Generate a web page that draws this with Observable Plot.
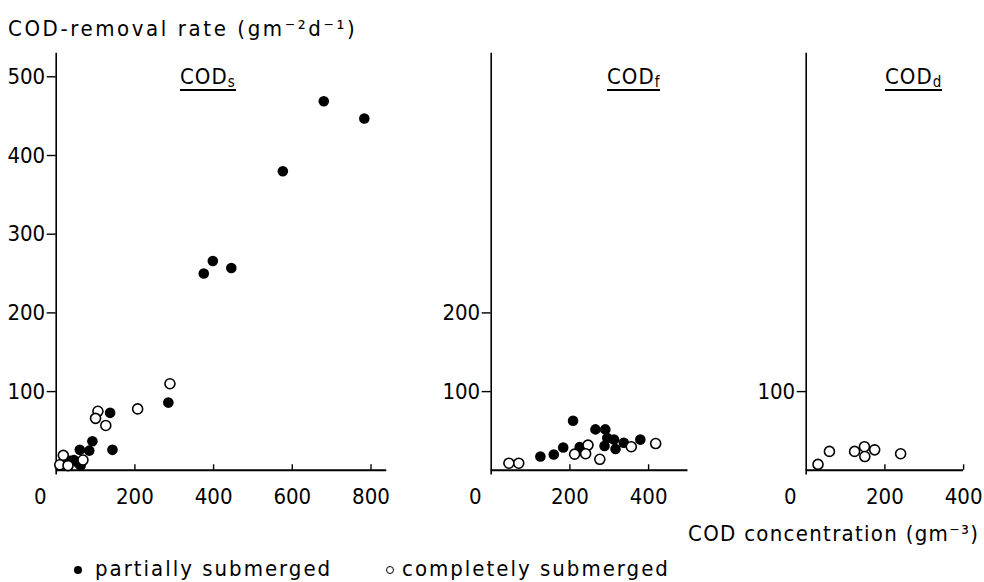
<!DOCTYPE html>
<html><head><meta charset="utf-8">
<script src="https://cdn.jsdelivr.net/npm/d3@7"></script>
<script src="https://cdn.jsdelivr.net/npm/@observablehq/plot@0.6"></script>
<style>
body{margin:0;background:#fff;}
#chart{position:relative;width:984px;height:582px;overflow:hidden;font-family:"Liberation Sans Narrow","DejaVu Sans Condensed",sans-serif;color:#000;background:#fff;}
#chart svg{position:absolute;left:0;top:0;}
.lbl{position:absolute;white-space:nowrap;font-size:22px;letter-spacing:2px;line-height:1;}
.ptitle{position:absolute;white-space:nowrap;font-size:22px;letter-spacing:1px;line-height:1;border-bottom:2px solid #000;padding-bottom:1px;}
.ptitle sub{font-size:15px;vertical-align:-3px;line-height:0;}
.dotk{position:absolute;border-radius:50%;box-sizing:border-box;}
</style></head><body><div id="chart"></div>
<script>
// ---- data ----
const panelNames = ["COD", "COD", "COD"];
const panelSubs = ["s", "f", "d"];
const yTitle = "COD-removal rate (gm⁻²d⁻¹)";
const xTitle = "COD concentration (gm⁻³)";
const legendLabels = ["partially submerged", "completely submerged"];

// COD_s panel
const sPartialX = [680, 783, 576, 375, 398, 445, 285, 137, 143, 92, 84, 60, 45, 55, 62, 35];
const sPartialY = [469, 447, 380, 250, 266, 257, 86, 73, 26, 37, 25, 26, 13, 10, 6, 12];
const sCompleteX = [289, 207, 106, 100, 126, 18, 9, 68, 30];
const sCompleteY = [110, 78, 75, 66, 57, 19, 7, 13, 6];
// COD_f panel
const fPartialX = [125, 159, 183, 208, 225, 265, 290, 295, 312, 288, 316, 337, 379];
const fPartialY = [17.5, 20, 29, 63, 29.5, 52, 52, 41, 39, 31, 27, 35, 39];
const fCompleteX = [45, 70, 212, 246, 240, 276, 356, 418];
const fCompleteY = [9, 9, 20.5, 32, 21, 14, 30, 34];
// COD_d panel
const dCompleteX = [30, 59, 123, 148, 149, 174, 240];
const dCompleteY = [7.5, 24, 24, 30, 17.5, 26, 21];

// axes
const sXTicks = [0, 200, 400, 600, 800];
const fXTicks = [0, 200, 400];
const dXTicks = [0, 200, 400];
const sYTicks = [100, 200, 300, 400, 500];
const fYTicks = [100, 200];
const dYTicks = [100];
const xMax = [840, 500, 400];
const yMax = 530;

const zip = (xs, ys) => xs.map((x, i) => ({x, y: ys[i]}));
const FONT = '"Liberation Sans Narrow","DejaVu Sans Condensed",sans-serif';
const W = 984, H = 582, PX = 0.3935, TOP = 52.7, BOTTOM = 469.8;

function panel(o) {
  const right = o.left + PX * o.xMax;
  return Plot.plot({
    width: W, height: H,
    marginLeft: o.left, marginRight: W - right, marginTop: TOP, marginBottom: H - BOTTOM,
    style: {background: "transparent", fontFamily: FONT, fontSize: "22px", color: "#000", overflow: "visible"},
    x: {domain: [0, o.xMax], axis: null},
    y: {domain: [0, yMax], axis: null},
    marks: [
      Plot.ruleY([0], {x1: 0, x2: o.xMax, stroke: "#000", strokeWidth: 2}),
      Plot.ruleX([0], {y1: -6, y2: yMax, stroke: "#000", strokeWidth: 1.6}),
      Plot.axisY({ticks: o.yTicks, tickSize: 9, tickPadding: 2, label: null, tickFormat: d => String(d), strokeWidth: 1.4}),
      Plot.ruleX(o.xTicks.filter(d => d > 0), {x: d => d, y1: 0, y2: 7, stroke: "#000", strokeWidth: 1.4}),
      Plot.text(o.xTicks.filter(d => d > 0), {x: d => d, y: 0, dy: 27, text: d => String(d)}),
      Plot.text(o.xTicks.filter(d => d === 0), {x: d => d, y: 0, dy: 27, dx: -16, text: d => String(d)}),
      Plot.dot(o.partial, {x: "x", y: "y", r: 5.3, fill: "#000", stroke: "none"}),
      Plot.dot(o.complete, {x: "x", y: "y", r: 5, fill: "#fff", stroke: "#000", strokeWidth: 1.6})
    ]
  });
}

const chart = document.getElementById("chart");
chart.append(panel({xMax: xMax[0], left: 55.7, xTicks: sXTicks, yTicks: sYTicks,
  partial: zip(sPartialX, sPartialY), complete: zip(sCompleteX, sCompleteY)}));
chart.append(panel({xMax: xMax[1], left: 490.7, xTicks: fXTicks, yTicks: fYTicks,
  partial: zip(fPartialX, fPartialY), complete: zip(fCompleteX, fCompleteY)}));
chart.append(panel({xMax: xMax[2], left: 805.7, xTicks: dXTicks, yTicks: dYTicks,
  partial: [], complete: zip(dCompleteX, dCompleteY)}));

function addDiv(cls, html, css) {
  const d = document.createElement("div");
  d.className = cls; d.innerHTML = html; Object.assign(d.style, css); chart.append(d); return d;
}
addDiv("lbl", yTitle, {left: "8px", top: "18px", letterSpacing: "2.6px"});
addDiv("lbl", xTitle, {left: "688px", top: "523px", letterSpacing: "1.3px"});
const titleLeft = [180, 607, 885];
panelNames.forEach((n, i) => addDiv("ptitle", n + "<sub>" + panelSubs[i] + "</sub>", {left: titleLeft[i] + "px", top: "66px"}));
addDiv("dotk", "", {left: "74px", top: "566px", width: "8px", height: "8px", background: "#000"});
addDiv("lbl", legendLabels[0], {left: "95px", top: "558px"});
addDiv("dotk", "", {left: "386px", top: "566px", width: "8px", height: "8px", border: "1.4px solid #000", background: "#fff"});
addDiv("lbl", legendLabels[1], {left: "402px", top: "558px"});
</script></body></html>
